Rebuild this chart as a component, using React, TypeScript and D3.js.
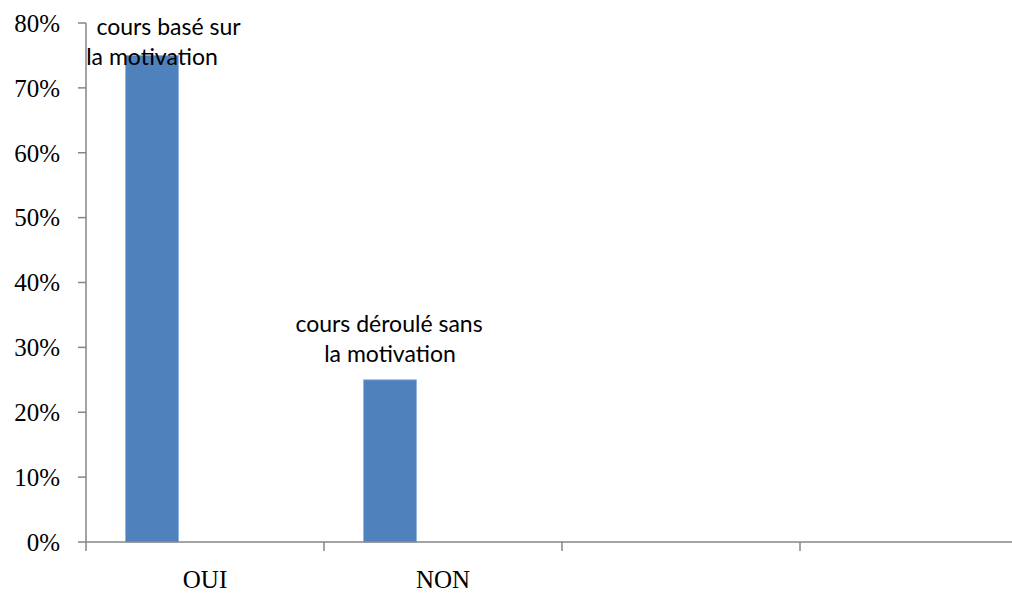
import React from "react";
import * as d3 from "d3";

const categories = ["OUI", "NON", "", ""];
const seriesNames = ["Série 1", "Série 2", "Série 3"];
const series1Values = [0.75, 0.25, null, null];
const dataLabels = [
  ["cours basé sur", "la motivation"],
  ["cours déroulé sans", "la motivation"],
];
const yTicks = [0, 0.1, 0.2, 0.3, 0.4, 0.5, 0.6, 0.7, 0.8];

const W = 1012;
const H = 595;
const left = 86;
const bottom = 542;
const top = 23;
const bandW = 238;

export default function App() {
  const x = d3
    .scaleBand<string>()
    .domain(categories.map((c, i) => String(i)))
    .range([left, left + bandW * categories.length])
    .padding(0);
  const inner = d3
    .scaleBand<string>()
    .domain(seriesNames)
    .range([39.5, bandW - 39.5])
    .padding(0);
  const y = d3.scaleLinear().domain([0, 0.8]).range([bottom, top]);
  const fmt = d3.format(".0%");
  const axisColor = "#868686";
  const labelDx = [16.5, -1];

  return (
    <svg
      width={W}
      height={H}
      style={{ position: "absolute", left: 0, top: 0, background: "#fff" }}
    >
      {/* bars */}
      {series1Values.map((v, i) =>
        v == null ? null : (
          <rect
            key={i}
            x={(x(String(i)) as number) + (inner(seriesNames[0]) as number)}
            y={y(v)}
            width={inner.bandwidth()}
            height={bottom - y(v)}
            fill="#4F81BD"
            stroke="#8EB4E3"
            strokeWidth={0.8}
          />
        )
      )}
      {/* y axis */}
      <line x1={left} x2={left} y1={top} y2={bottom} stroke={axisColor} strokeWidth={1.5} />
      {yTicks.map((t) => (
        <g key={t}>
          <line x1={left - 8} x2={left} y1={y(t)} y2={y(t)} stroke={axisColor} strokeWidth={1.5} />
          <text
            x={left - 26}
            y={y(t)}
            dy="0.35em"
            textAnchor="end"
            fontFamily="'Liberation Serif', 'Times New Roman', serif"
            fontSize={25}
            fill="#000"
          >
            {fmt(t)}
          </text>
        </g>
      ))}
      {/* x axis */}
      <line x1={left} x2={W} y1={bottom} y2={bottom} stroke={axisColor} strokeWidth={1.5} />
      {categories.map((c, i) => (
        <line
          key={"t" + i}
          x1={x(String(i)) as number}
          x2={x(String(i)) as number}
          y1={bottom}
          y2={bottom + 9}
          stroke={axisColor}
          strokeWidth={1.5}
        />
      ))}
      {categories.map((c, i) => (
        <text
          key={"c" + i}
          x={(x(String(i)) as number) + x.bandwidth() / 2}
          y={588}
          textAnchor="middle"
          fontFamily="'Liberation Serif', 'Times New Roman', serif"
          fontSize={25}
          fill="#000"
        >
          {c}
        </text>
      ))}
      {/* data labels */}
      {dataLabels.map((lines, i) => {
        const v = series1Values[i] as number;
        const cx = (x(String(i)) as number) + (inner(seriesNames[0]) as number) + inner.bandwidth() / 2;
        return lines.map((ln, j) => (
          <text
            key={"l" + i + j}
            x={cx + (j === 0 ? labelDx[i] : 0)}
            y={y(v) - 18 - (lines.length - 1 - j) * 30 + (i === 0 ? 28 : 0)}
            textAnchor="middle"
            fontFamily="Lato, 'Open Sans', sans-serif"
            fontSize={23}
            fill="#000"
          >
            {ln}
          </text>
        ));
      })}
    </svg>
  );
}
